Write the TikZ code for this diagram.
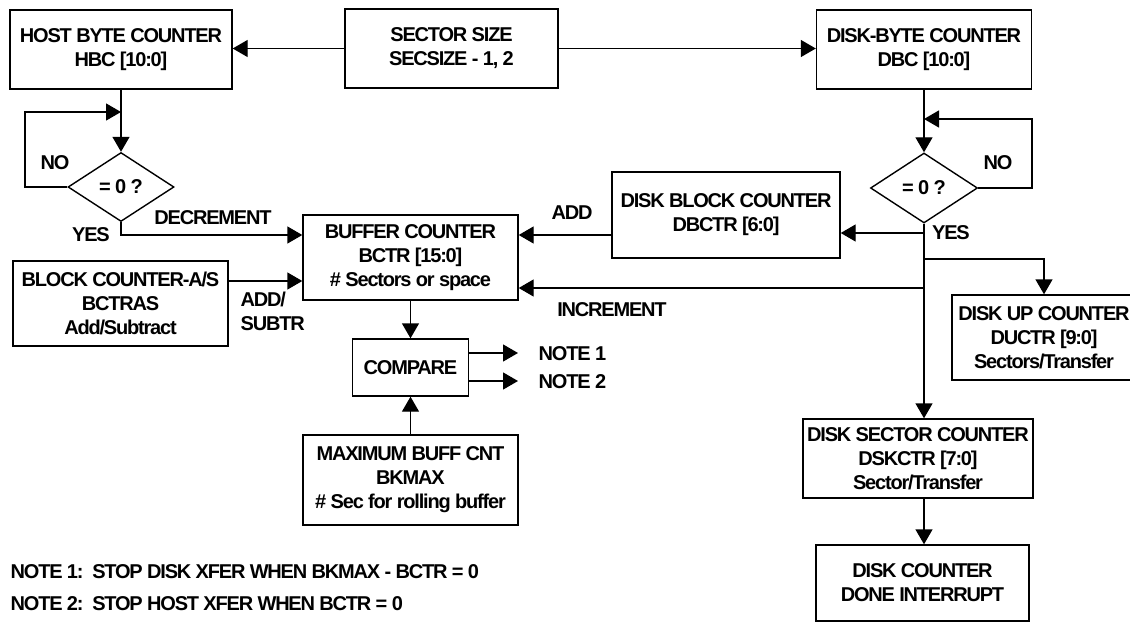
\documentclass[tikz,border=0pt]{standalone}
\usepackage{fontspec}
\setmainfont{Liberation Sans}[LetterSpace=-6]
\usetikzlibrary{arrows.meta,shapes.geometric}
\newcommand\lbl{\bfseries\fontsize{20}{24}\selectfont}
\begin{document}
\begin{tikzpicture}[x=1pt,y=-1pt,line width=1.4pt,
  box/.style={draw,rectangle,inner sep=0pt,align=center,font=\lbl},
  dia/.style={draw,diamond,inner sep=0pt,font=\lbl},
  lab/.style={inner sep=0pt,align=left,font=\lbl},
  arr/.style={-{Triangle[length=15pt,width=17pt]}}]
\useasboundingbox (0,0) rectangle (1130,623);
% boxes
\node[box,minimum width=222pt,minimum height=79pt] (hbc) at (121,49.5) {HOST BYTE COUNTER\\HBC [10:0]};
\node[box,minimum width=213pt,minimum height=79pt] (ss) at (451.5,48.5) {SECTOR SIZE\\SECSIZE - 1, 2};
\node[box,minimum width=215pt,minimum height=79pt] (dbc) at (924,49.5) {DISK-BYTE COUNTER\\DBC [10:0]};
\node[dia,minimum width=106pt,minimum height=69pt] (d1) at (121,187) {= 0 ?};
\node[dia,minimum width=107pt,minimum height=70pt] (d2) at (924,188) {= 0 ?};
\node[box,minimum width=215pt,minimum height=85pt] (buf) at (410.5,257.5) {BUFFER COUNTER\\BCTR [15:0]\\\# Sectors or space};
\node[box,minimum width=215pt,minimum height=85pt] (bas) at (120.5,303.5) {BLOCK COUNTER-A/S\\BCTRAS\\Add/Subtract};
\node[box,minimum width=228pt,minimum height=86pt] (dbctr) at (726,215) {DISK BLOCK COUNTER\\DBCTR [6:0]};
\node[box,minimum width=184pt,minimum height=85pt] (ductr) at (1044,337.5) {DISK UP COUNTER\\DUCTR [9:0]\\Sectors/Transfer};
\node[box,minimum width=116pt,minimum height=57pt] (cmp) at (410.5,367.5) {COMPARE};
\node[box,minimum width=215pt,minimum height=90pt] (bkmax) at (410.5,480) {MAXIMUM BUFF CNT\\BKMAX\\\# Sec for rolling buffer};
\node[box,minimum width=230pt,minimum height=79pt] (dsk) at (918,458.5) {DISK SECTOR COUNTER\\DSKCTR [7:0]\\Sector/Transfer};
\node[box,minimum width=213pt,minimum height=76pt] (done) at (922.5,583) {DISK COUNTER\\DONE INTERRUPT};
% coordinates
\coordinate (l1) at (25,112);
\coordinate (j1) at (121,112);
\coordinate (y1) at (121,235);
\coordinate (b1) at (228,281);
\coordinate (l2) at (1032,119);
\coordinate (j2) at (924,119);
\coordinate (y2) at (924,233);
\coordinate (a1) at (612,235);
\coordinate (br) at (924,259);
\coordinate (inc) at (924,288);
\coordinate (n1) at (468,353);
\coordinate (n1e) at (518,353);
\coordinate (n2) at (468,381);
\coordinate (n2e) at (518,381);
% connectors
\draw[arr] (ss.west) -- (ss.west -| hbc.east);
\draw[arr] (ss.east) -- (ss.east -| dbc.west);
\draw[arr] (hbc.south) -- (d1.north);
\draw[arr] (d1.west) -| (l1) -- (j1);
\draw[arr] (d1.south) -- (y1) -- (y1 -| buf.west);
\draw[arr] (b1) -- (b1 -| buf.west);
\draw[arr] (dbc.south) -- (d2.north);
\draw[arr] (d2.east) -| (l2) -- (j2);
\draw[arr] (d2.south) -- (d2.south |- dsk.north);
\draw[arr] (y2) -- (y2 -| dbctr.east);
\draw[arr] (a1) -- (a1 -| buf.east);
\draw[arr] (inc) -- (inc -| buf.east);
\draw[arr] (br) -| (ductr.north);
\draw[arr] (buf.south) -- (cmp.north);
\draw[arr] (n1) -- (n1e);
\draw[arr] (n2) -- (n2e);
\draw[arr] (bkmax.north) -- (cmp.south);
\draw[arr] (dsk.south -| d2.south) -- (done.north -| d2.south);
% labels
\node[lab] (no1) at (55,163) {NO};
\node[lab] (yes1) at (91,235) {YES};
\node[lab] (dec) at (213,218) {DECREMENT};
\node[lab,anchor=west] (addsub) at (240,311) {ADD/\\SUBTR};
\node[lab] (add) at (572,213) {ADD};
\node[lab] (incl) at (612,310) {INCREMENT};
\node[lab] (no2) at (998,163) {NO};
\node[lab] (yes2) at (951,233) {YES};
\node[lab,anchor=west] (note1) at (538,354) {NOTE 1};
\node[lab,anchor=west] (note2) at (538,382) {NOTE 2};
\node[lab,anchor=west] (t1) at (10,572) {NOTE 1:\ \ STOP DISK XFER WHEN BKMAX - BCTR = 0};
\node[lab,anchor=west] (t2) at (10,604) {NOTE 2:\ \ STOP HOST XFER WHEN BCTR = 0};
\end{tikzpicture}
\end{document}
